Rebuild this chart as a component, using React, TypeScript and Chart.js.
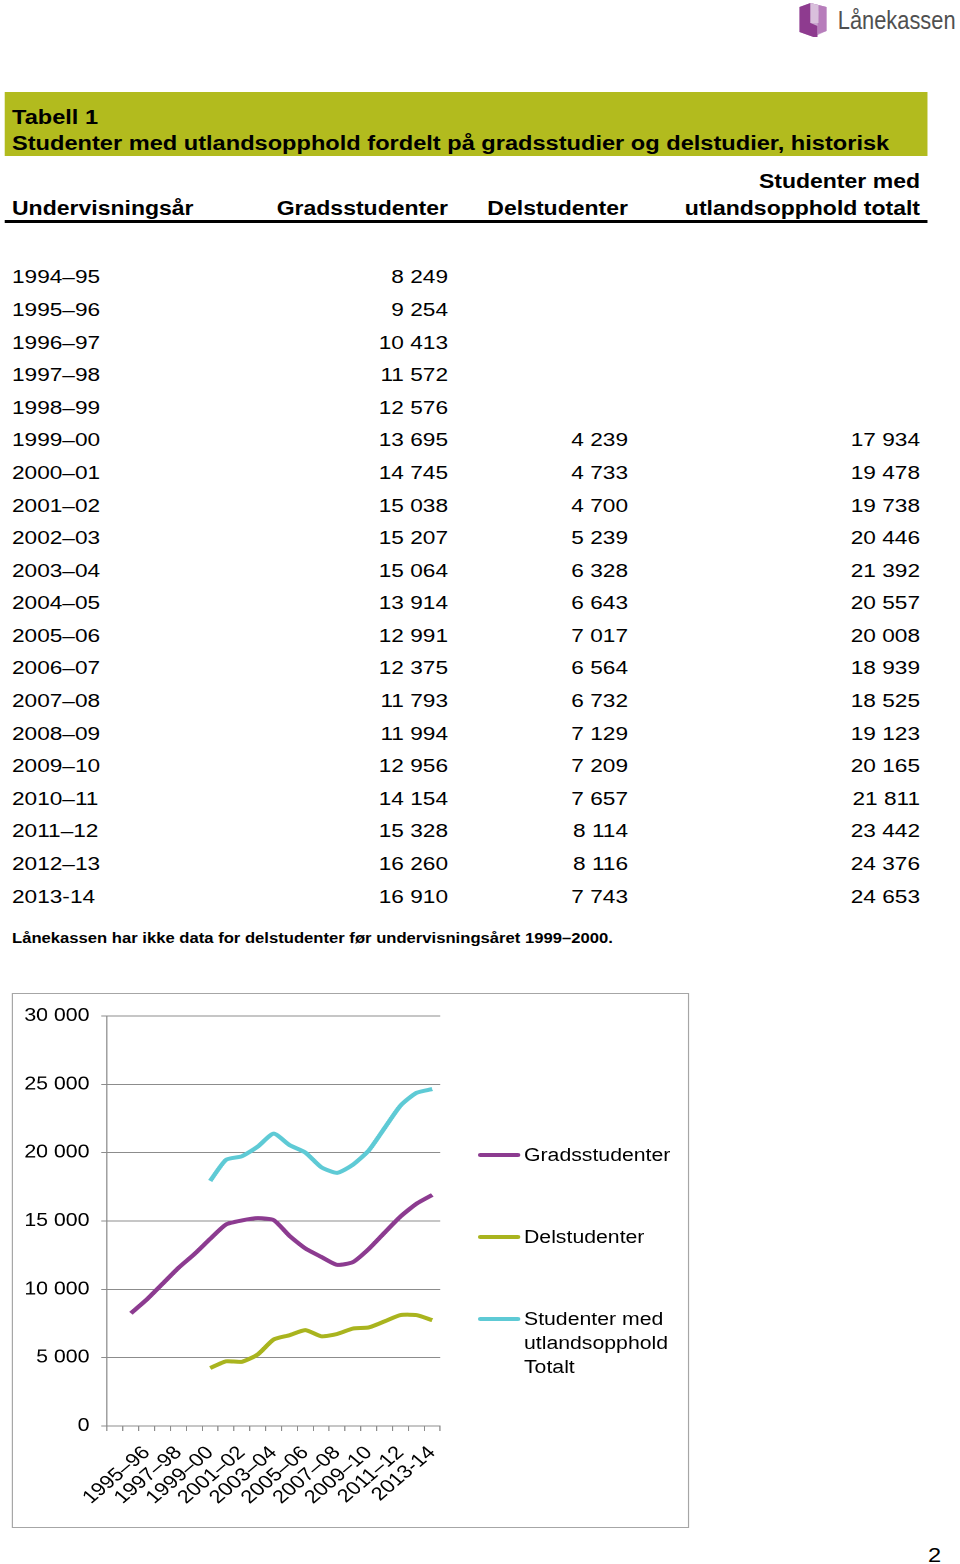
import React, { useEffect, useRef } from "react";
import { Chart, registerables } from "chart.js";

Chart.register(...registerables);

// ---- data ----
const years: string[] = [
  "1994–95", "1995–96", "1996–97", "1997–98", "1998–99", "1999–00", "2000–01",
  "2001–02", "2002–03", "2003–04", "2004–05", "2005–06", "2006–07", "2007–08",
  "2008–09", "2009–10", "2010–11", "2011–12", "2012–13", "2013-14",
];
const gradsstudenter: number[] = [
  8249, 9254, 10413, 11572, 12576, 13695, 14745, 15038, 15207, 15064,
  13914, 12991, 12375, 11793, 11994, 12956, 14154, 15328, 16260, 16910,
];
const delstudenter: (number | null)[] = [
  null, null, null, null, null, 4239, 4733, 4700, 5239, 6328,
  6643, 7017, 6564, 6732, 7129, 7209, 7657, 8114, 8116, 7743,
];
const totalt: (number | null)[] = [
  null, null, null, null, null, 17934, 19478, 19738, 20446, 21392,
  20557, 20008, 18939, 18525, 19123, 20165, 21811, 23442, 24376, 24653,
];
const yTicks: number[] = [0, 5000, 10000, 15000, 20000, 25000, 30000];

const PURPLE = "#8C3B90";
const OLIVE = "#A9B41E";
const CYAN = "#5ECAD5";
const BAND = "#B2BB1E";
const GRID = "#8C8C8C";
const FONT = "'Liberation Sans', Arial, Helvetica, sans-serif";

// horizontal stretch of the reference page
const S = 1.18;
const W = 960 / S;
const px = (x: number) => x / S;

const fmt = (n: number | null) =>
  n == null ? "" : String(n).replace(/\B(?=(\d{3})+(?!\d))/g, " ");

function Txt(props: {
  x: number; y: number; align?: "left" | "right"; size: number; bold?: boolean;
  lh?: number; children: React.ReactNode; color?: string;
}) {
  const lh = props.lh ?? props.size * 1.2;
  const st: React.CSSProperties = {
    position: "absolute",
    top: props.y - lh / 2,
    lineHeight: lh + "px",
    fontSize: props.size,
    fontWeight: props.bold ? 700 : 400,
    whiteSpace: "nowrap",
    color: props.color ?? "#000",
  };
  if (props.align === "right") st.right = W - px(props.x);
  else st.left = px(props.x);
  return <div style={st}>{props.children}</div>;
}

function LineChart() {
  const ref = useRef<HTMLCanvasElement | null>(null);
  useEffect(() => {
    if (!ref.current) return;
    const labels = ["", ...years];
    const chart = new Chart(ref.current, {
      type: "line",
      data: {
        labels,
        datasets: [
          { label: "Gradsstudenter", data: [null, ...gradsstudenter], borderColor: PURPLE, backgroundColor: PURPLE },
          { label: "Delstudenter", data: [null, ...delstudenter], borderColor: OLIVE, backgroundColor: OLIVE },
          { label: "Studenter med utlandsopphold Totalt", data: [null, ...totalt], borderColor: CYAN, backgroundColor: CYAN },
        ].map((d) => ({
          ...d,
          borderWidth: 4,
          pointRadius: 0,
          tension: 0.2,
          spanGaps: false,
          borderCapStyle: "butt" as const,
          borderJoinStyle: "round" as const,
        })),
      },
      options: {
        animation: false,
        responsive: true,
        maintainAspectRatio: false,
        devicePixelRatio: 2,
        layout: { padding: { left: 0, top: 22, right: 210, bottom: 0 } },
        plugins: { legend: { display: false }, tooltip: { enabled: false } },
        scales: {
          x: {
            type: "category",
            offset: true,
            grid: {
              offset: true,
              drawOnChartArea: false,
              drawTicks: true,
              tickLength: 5,
              color: GRID,
              lineWidth: 1,
            },
            border: { display: true, color: GRID, width: 1 },
            ticks: {
              autoSkip: false,
              maxRotation: 45,
              minRotation: 45,
              padding: 11,
              color: "#000",
              font: { family: FONT, size: 18.5 },
              callback: (_v: any, i: number) => (i % 2 === 0 ? labels[i] : ""),
            },
            afterFit: (scale: any) => { scale.height = 101; },
          },
          y: {
            min: 0,
            max: 30000,
            afterBuildTicks: (scale: any) => { scale.ticks = yTicks.map((v) => ({ value: v })); },
            grid: { color: GRID, lineWidth: 1, drawTicks: true, tickLength: 5 },
            border: { display: true, color: GRID, width: 1 },
            ticks: {
              padding: 10,
              color: "#000",
              font: { family: FONT, size: 18 },
              callback: (v: any) => fmt(Number(v)),
            },
            afterFit: (scale: any) => { scale.width = 79.7; },
          },
        },
      },
    });
    return () => chart.destroy();
  }, []);
  return <canvas ref={ref} />;
}

const legendItems = [
  { color: PURPLE, lines: ["Gradsstudenter"], y: 1155 },
  { color: OLIVE, lines: ["Delstudenter"], y: 1237 },
  { color: CYAN, lines: ["Studenter med", "utlandsopphold", "Totalt"], y: 1319 },
];

export default function App() {
  const rowY = (i: number) => 277 + 32.58 * i;
  const frameLeft = px(12);
  const frameTop = 993;
  const frameW = px(689) - px(12);
  const frameH = 535;
  return (
    <div
      style={{
        position: "absolute",
        left: 0,
        top: 0,
        width: W,
        height: 1564,
        transform: `scaleX(${S})`,
        transformOrigin: "0 0",
        fontFamily: FONT,
        color: "#000",
        background: "#fff",
        overflow: "hidden",
      }}
    >
      {/* logo */}
      <svg
        style={{ position: "absolute", left: px(797), top: 1, width: px(32), height: 38 }}
        viewBox="0 0 32 38"
        preserveAspectRatio="none"
      >
        <polygon points="3,6 14,2 30,6 30,30 17,36 3,31" fill="#C9A6CF" />
        <polygon points="3,6 14,2 14,22 21,25 21,36 17,36 3,31" fill="#8E3B8F" />
        <polygon points="14,2 30,6 30,30 21,33 21,25 22,10" fill="#B77DBB" />
        <polygon points="14,2 22,4 22,22 14,22" fill="#D9C0DC" />
      </svg>
      <div
        style={{
          position: "absolute",
          left: px(838),
          top: 5,
          fontSize: 25,
          lineHeight: "30px",
          color: "#505050",
          whiteSpace: "nowrap",
          transform: "scaleX(0.74)",
          transformOrigin: "0 0",
        }}
      >
        Lånekassen
      </div>

      {/* title band */}
      <div
        style={{
          position: "absolute",
          left: px(5),
          top: 92,
          width: px(928) - px(5),
          height: 64,
          background: BAND,
        }}
      />
      <Txt x={12} y={117} size={20} bold>Tabell 1</Txt>
      <Txt x={12} y={143} size={20} bold>
        Studenter med utlandsopphold fordelt på gradsstudier og delstudier, historisk
      </Txt>

      {/* header */}
      <Txt x={12} y={209} size={19.5} bold>Undervisningsår</Txt>
      <Txt x={448} y={209} size={19.5} bold align="right">Gradsstudenter</Txt>
      <Txt x={628} y={209} size={19.5} bold align="right">Delstudenter</Txt>
      <Txt x={920} y={182} size={19.5} bold align="right">Studenter med</Txt>
      <Txt x={920} y={209} size={19.5} bold align="right">utlandsopphold totalt</Txt>
      <div
        style={{
          position: "absolute",
          left: px(5),
          top: 220,
          width: px(928) - px(5),
          height: 3,
          background: "#000",
        }}
      />

      {/* rows */}
      {years.map((yr, i) => (
        <React.Fragment key={yr}>
          <Txt x={12} y={rowY(i)} size={19.2}>{yr}</Txt>
          <Txt x={448} y={rowY(i)} size={19.2} align="right">{fmt(gradsstudenter[i])}</Txt>
          <Txt x={628} y={rowY(i)} size={19.2} align="right">{fmt(delstudenter[i])}</Txt>
          <Txt x={920} y={rowY(i)} size={19.2} align="right">{fmt(totalt[i])}</Txt>
        </React.Fragment>
      ))}

      <Txt x={12} y={938} size={14.1} bold>
        Lånekassen har ikke data for delstudenter før undervisningsåret 1999–2000.
      </Txt>

      {/* chart frame */}
      <div
        style={{
          position: "absolute",
          left: frameLeft,
          top: frameTop,
          width: frameW,
          height: frameH,
          border: "1.5px solid #A6A6A6",
          boxSizing: "border-box",
        }}
      >
        <div style={{ position: "absolute", left: 0, top: 0, right: 0, bottom: 0 }}>
          <LineChart />
        </div>
      </div>

      {/* legend */}
      {legendItems.map((it) => (
        <React.Fragment key={it.lines[0]}>
          <div
            style={{
              position: "absolute",
              left: px(478),
              top: it.y - 2,
              width: px(520) - px(478),
              height: 4,
              background: it.color,
              borderRadius: 2,
            }}
          />
          {it.lines.map((l, j) => (
            <Txt key={l} x={524} y={it.y + 24 * j} size={18} lh={24}>{l}</Txt>
          ))}
        </React.Fragment>
      ))}

      <Txt x={928} y={1555} size={20}>2</Txt>
    </div>
  );
}
